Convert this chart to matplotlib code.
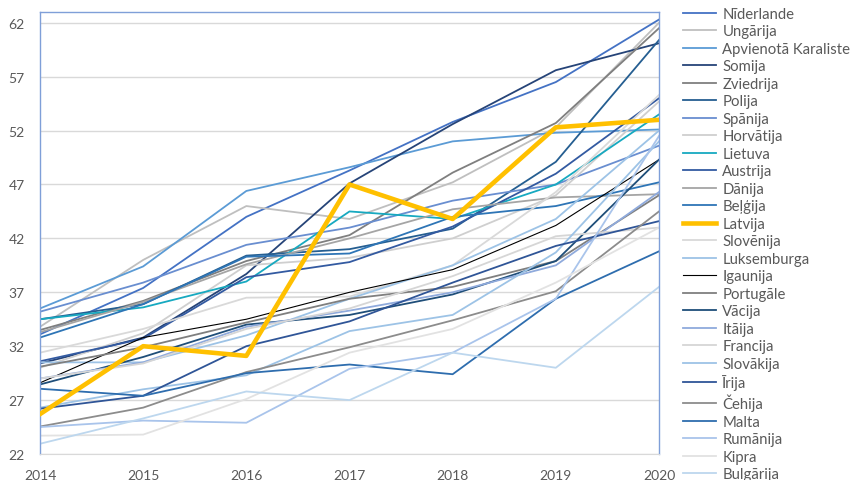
import matplotlib
matplotlib.use("Agg")
import matplotlib.pyplot as plt

plt.rcParams['font.family'] = ['Lato', 'DejaVu Sans']

years = [2014, 2015, 2016, 2017, 2018, 2019, 2020]

countries = ["Nīderlande", "Ungārija", "Apvienotā Karaliste", "Somija", "Zviedrija",
             "Polija", "Spānija", "Horvātija", "Lietuva", "Austrija", "Dānija",
             "Beļģija", "Latvija", "Slovēnija", "Luksemburga", "Igaunija",
             "Portugāle", "Vācija", "Itāija", "Francija", "Slovākija", "Īrija",
             "Čehija", "Malta", "Rumānija", "Kipra", "Bulgārija"]

nl = [33.1, 37.4, 44.0, 48.3, 52.8, 56.5, 62.3]
hu = [33.8, 40.0, 45.0, 43.8, 47.2, 52.3, 62.0]
uk = [35.5, 39.4, 46.4, 48.6, 51.0, 51.8, 52.1]
fi = [30.4, 32.8, 38.7, 47.1, 52.6, 57.6, 60.1]
se = [33.5, 36.2, 39.9, 42.3, 48.1, 52.7, 61.5]
pl = [34.5, 35.9, 40.4, 41.0, 42.9, 49.1, 60.4]
es = [35.2, 37.9, 41.4, 43.0, 45.5, 47.0, 50.6]
hr = [30.0, 33.2, 39.5, 40.2, 42.0, 46.0, 54.7]
lt = [34.5, 35.6, 38.0, 44.5, 43.8, 47.0, 53.5]
at = [30.6, 32.7, 38.4, 39.8, 43.1, 48.0, 55.0]
dk = [33.3, 36.1, 39.6, 42.0, 44.7, 45.8, 46.1]
be = [32.8, 35.9, 40.3, 40.6, 44.0, 45.0, 47.2]
lv = [25.7, 32.0, 31.1, 47.0, 43.8, 52.3, 53.0]
si = [31.4, 33.6, 36.5, 36.6, 39.5, 46.3, 55.3]
lu = [30.5, 30.5, 33.0, 36.4, 39.5, 43.8, 52.0]
ee = [28.6, 32.8, 34.5, 37.0, 39.1, 43.2, 49.3]
pt = [30.1, 31.9, 34.2, 36.4, 37.5, 39.9, 46.0]
de = [28.45, 31.0, 34.0, 34.9, 36.8, 39.9, 49.3]
it = [29.0, 30.5, 33.8, 35.3, 37.0, 39.5, 46.3]
fr = [29.0, 30.4, 33.6, 35.5, 38.5, 42.2, 43.0]
sk = [26.3, 28.0, 29.3, 33.4, 34.9, 40.7, 51.0]
ie = [26.2, 27.4, 32.0, 34.3, 37.9, 41.3, 43.6]
cz = [24.55, 26.3, 29.6, 31.9, 34.4, 37.1, 44.5]
mt = [28.05, 27.4, 29.5, 30.3, 29.4, 36.4, 40.8]
ro = [24.5, 25.1, 24.9, 29.9, 31.4, 36.4, 51.5]
cy = [23.7, 23.8, 27.1, 31.4, 33.6, 37.9, 43.0]
bg = [22.95, 25.3, 27.8, 27.0, 31.4, 30.0, 37.5]

series = [nl, hu, uk, fi, se, pl, es, hr, lt, at, dk, be, lv, si, lu, ee,
          pt, de, it, fr, sk, ie, cz, mt, ro, cy, bg]

colors = ["#4472C4", "#BFBFBF", "#5B9BD5", "#264478", "#7F7F7F", "#255E91",
          "#698ED0", "#CFCFCF", "#17A9C0", "#335AA1", "#A5A5A5", "#2E75B6",
          "#FFC000", "#D9D9D9", "#9DC3E6", "#000000", "#7F7F7F", "#1F4E79",
          "#8FAADC", "#D6D6D6", "#9DC3E6", "#2F5597", "#8C8C8C", "#2E6DAE",
          "#A9C4EB", "#E2E2E2", "#BDD7EE"]

fig = plt.figure(figsize=(8.52, 4.81), dpi=100)
ax = fig.add_axes([40/852, 1 - 455/481, 619/852, 442/481])

for name, vals, c in zip(countries, series, colors):
    if name == "Latvija":
        ax.plot(years, vals, color=c, lw=3.3, label=name, zorder=3)
    elif name == "Igaunija":
        ax.plot(years, vals, color=c, lw=0.8, label=name, zorder=2)
    else:
        ax.plot(years, vals, color=c, lw=1.3, label=name, zorder=2)

ax.set_xlim(2014, 2020)
ax.set_ylim(22, 63)
ax.set_yticks(range(22, 63, 5))
ax.set_xticks(years)
ax.grid(axis="y", color="#D9D9D9", lw=1)
ax.set_axisbelow(True)
for s in ["left", "top", "right"]:
    ax.spines[s].set_color("#7F9FD8")
    ax.spines[s].set_linewidth(1)
ax.spines["bottom"].set_color("#D9D9D9")
ax.tick_params(length=0, labelsize=10, labelcolor="#595959")
ax.tick_params(axis="y", pad=11)
ax.tick_params(axis="x", pad=11)

leg = fig.legend(loc="upper left", bbox_to_anchor=(683/852, 1 - 8/481),
                 frameon=False, fontsize=10.7, labelspacing=0.235, handlelength=2.2,
                 handletextpad=0.45, borderpad=0, borderaxespad=0)
for t in leg.get_texts():
    t.set_color("#595959")

plt.savefig("out.png", dpi=100)
